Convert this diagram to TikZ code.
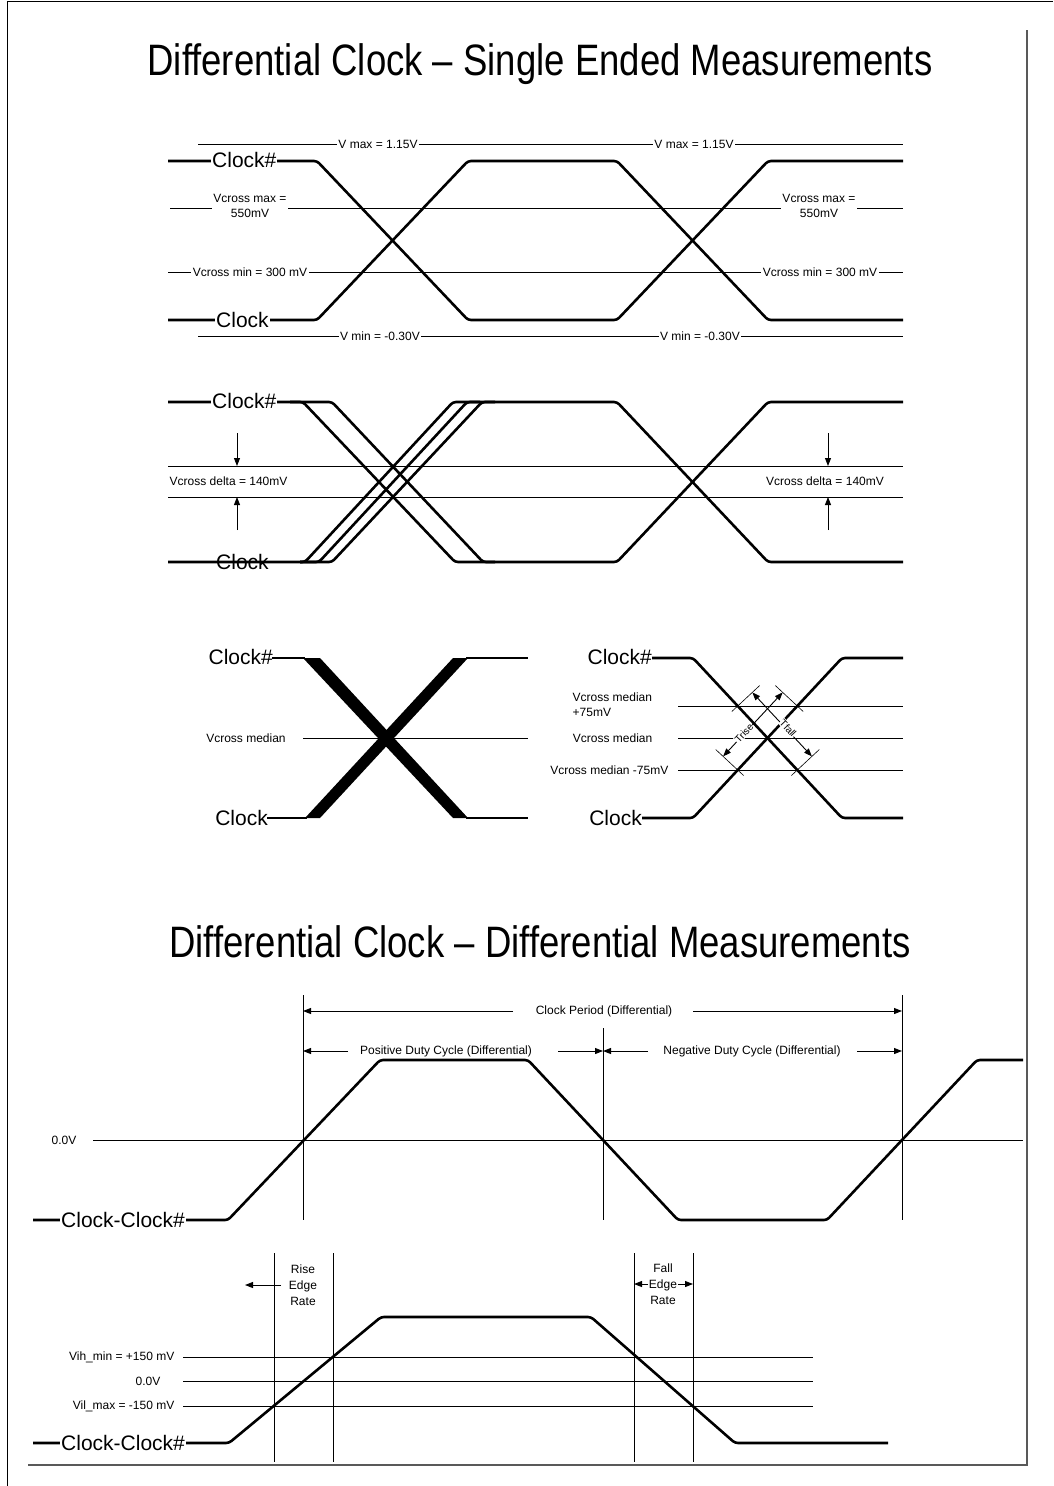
\documentclass[tikz,border=0pt]{standalone}
\usepackage{fontspec}
\setmainfont{Liberation Sans}
\newfontfamily\titlefont[FakeStretch=0.83]{Liberation Sans}
\usetikzlibrary{arrows.meta}
\begin{document}
\begin{tikzpicture}[x=1pt,y=-1pt,
  thinln/.style={line width=0.9pt},
  wave/.style={line width=2.6pt, rounded corners=3pt, line join=round},
  small/.style={font=\fontsize{12}{15}\selectfont, inner sep=1.5pt},
  tiny/.style={font=\fontsize{10}{12}\selectfont, inner sep=0.5pt},
  biglbl/.style={font=\fontsize{21}{24}\selectfont, inner sep=1pt},
  titlestyle/.style={font=\titlefont\fontsize{44}{50}\selectfont},
  dimarrow/.style={line width=0.9pt, -{Triangle[length=8pt,width=6pt]}},
  frameln/.style={line width=2pt, draw=black!65},
]
\fill[white] (0,0) rectangle (1053,1486);
\useasboundingbox (0,0) rectangle (1053,1486);
% page frame
\draw[line width=1pt] (7,1486) -- (7,1) -- (1053,1);
\draw[frameln] (1027,30) -- (1027,1465) -- (28,1465);

% titles
\node[titlestyle] (t1) at (540,64) {Differential Clock \textendash\ Single Ended Measurements};
\node[titlestyle] (t2) at (540,942) {Differential Clock \textendash\ Differential Measurements};

% ===== Section 1 =====
\draw[thinln] (198,144) -- (903,144);
\draw[thinln] (170,208) -- (903,208);
\draw[thinln] (168,272) -- (903,272);
\draw[thinln] (198,336) -- (903,336);
\draw[wave] (168,161) -- (317,161) -- (468,320) -- (617,320) -- (768,161) -- (903,161);
\draw[wave] (168,320) -- (317,320) -- (468,161) -- (617,161) -- (768,320) -- (903,320);
\node[small, fill=white] (vmax1) at (378,144) {V max = 1.15V};
\node[small, fill=white] (vmax2) at (694,144) {V max = 1.15V};
\node[small, fill=white, align=center] (vcmx1) at (250,206) {Vcross max =\\550mV};
\node[small, fill=white, align=center] (vcmx2) at (819,206) {Vcross max =\\550mV};
\node[small, fill=white] (vcmn1) at (250,272) {Vcross min = 300 mV};
\node[small, fill=white] (vcmn2) at (820,272) {Vcross min = 300 mV};
\node[small, fill=white] (vmin1) at (380,336) {V min = -0.30V};
\node[small, fill=white] (vmin2) at (700,336) {V min = -0.30V};
\node[biglbl, fill=white, anchor=west] (c1n) at (211,160) {Clock\#};
\node[biglbl, fill=white, anchor=west] (c1) at (215,320) {Clock};

% ===== Section 2 =====
\draw[thinln] (168,466) -- (903,466);
\draw[thinln] (168,497) -- (903,497);
\draw[wave] (168,402) -- (332,402) -- (483,562) -- (617,562) -- (768,402) -- (903,402);
\draw[wave] (290,402) -- (303,402) -- (455,562) -- (495,562);
\draw[wave] (168,562) -- (305,562) -- (453,402) -- (617,402) -- (768,562) -- (903,562);
\draw[wave] (300,562) -- (319,562) -- (467,402) -- (480,402);
\draw[wave] (300,562) -- (332,562) -- (482,402) -- (495,402);
\node[small, fill=white, anchor=west] (vd1) at (168,481) {Vcross delta = 140mV};
\node[small, fill=white] (vd2) at (825,481) {Vcross delta = 140mV};
\draw[dimarrow] (237,433) -- (237,466);
\draw[dimarrow] (237,530) -- (237,497);
\draw[dimarrow] (828,433) -- (828,466);
\draw[dimarrow] (828,530) -- (828,497);
\node[biglbl, fill=white, anchor=west] (c2n) at (211,401) {Clock\#};
\node[biglbl, anchor=west] (c2) at (215,562) {Clock};

% ===== Section 3 left =====
\draw[thinln] (303,738) -- (528,738);
\fill (303,658) -- (320,658) -- (468,818) -- (453,818) -- cycle;
\fill (305,818) -- (320,818) -- (468,658) -- (453,658) -- cycle;
\draw[wave, rounded corners=0pt] (272,658) -- (305,658);
\draw[wave, rounded corners=0pt] (466,658) -- (528,658);
\draw[wave, rounded corners=0pt] (267,818) -- (307,818);
\draw[wave, rounded corners=0pt] (466,818) -- (528,818);
\node[biglbl, anchor=east] (c3n) at (274,657) {Clock\#};
\node[biglbl, anchor=east] (c3) at (269,818) {Clock};
\node[small] (vm1) at (246,738) {Vcross median};

% ===== Section 3 right =====
\draw[thinln] (678,706) -- (903,706);
\draw[thinln] (678,738) -- (903,738);
\draw[thinln] (678,770) -- (903,770);
\draw[wave] (652,658) -- (693,658) -- (842,818) -- (903,818);
\draw[wave] (642,818) -- (693,818) -- (842,658) -- (903,658);
\node[biglbl, anchor=east] (c4n) at (653,657) {Clock\#};
\node[biglbl, anchor=east] (c4) at (643,818) {Clock};
\node[small, align=left, anchor=west] (vmp) at (571,705) {Vcross median\\+75mV};
\node[small, anchor=east] (vm2) at (654,738) {Vcross median};
\node[small, anchor=east] (vmm) at (670,770) {Vcross median -75mV};
% extension lines
\draw[line width=0.6pt] (743.6,775.5) -- (715.7,749.5);
\draw[line width=0.6pt] (803.2,711.5) -- (775.3,685.5);
\draw[line width=0.6pt] (731.8,711.5) -- (759.7,685.5);
\draw[line width=0.6pt] (791.4,775.5) -- (819.3,749.5);
% dimension lines
\draw[dimarrow, {Triangle[length=8pt,width=6pt]}-{Triangle[length=8pt,width=6pt]}] (723.1,756.4) -- (782.7,692.4);
\draw[dimarrow, {Triangle[length=8pt,width=6pt]}-{Triangle[length=8pt,width=6pt]}] (752.3,692.4) -- (811.9,756.4);
\node[tiny, fill=white, rotate=47] (trise) at (744,733) {Trise};
\node[tiny, fill=white, rotate=-47] (tfall) at (788,728) {Tfall};

% ===== Section 4 =====
\draw[thinln] (303,995) -- (303,1220);
\draw[thinln] (603,1028) -- (603,1220);
\draw[thinln] (902,995) -- (902,1220);
\draw[thinln] (93,1140) -- (1023,1140);
\node[small] (zero1) at (64,1140) {0.0V};
\draw[wave] (33,1220) -- (228,1220) -- (380,1060) -- (528,1060) -- (678,1220) -- (827,1220) -- (977,1060) -- (1023,1060);
\node[biglbl, fill=white, anchor=west] (cc1) at (60,1220) {Clock-Clock\#};
\node[small] (per) at (604,1011) {Clock Period (Differential)};
\draw[dimarrow] (513,1011) -- (303,1011);
\draw[dimarrow] (693,1011) -- (902,1011);
\node[small] (pos) at (446,1051) {Positive Duty Cycle (Differential)};
\draw[dimarrow] (348,1051) -- (303,1051);
\draw[dimarrow] (558,1051) -- (603,1051);
\node[small] (neg) at (752,1051) {Negative Duty Cycle (Differential)};
\draw[dimarrow] (648,1051) -- (603,1051);
\draw[dimarrow] (857,1051) -- (902,1051);

% ===== Section 5 =====
\draw[thinln] (274,1253) -- (274,1462);
\draw[thinln] (333,1253) -- (333,1462);
\draw[thinln] (634,1253) -- (634,1462);
\draw[thinln] (693,1253) -- (693,1462);
\draw[thinln] (183,1357) -- (813,1357);
\draw[thinln] (183,1381) -- (813,1381);
\draw[thinln] (183,1406) -- (813,1406);
\node[small, anchor=east] (vih) at (176,1357) {Vih\_min = +150 mV};
\node[small, anchor=east] (zero2) at (162,1381) {0.0V};
\node[small, anchor=east] (vil) at (176,1406) {Vil\_max = -150 mV};
\draw[wave] (33,1443) -- (229,1443) -- (381,1317) -- (591,1317) -- (735,1443) -- (888,1443);
\node[biglbl, fill=white, anchor=west] (cc2) at (60,1443) {Clock-Clock\#};
\node[small, align=center, font=\fontsize{12}{16}\selectfont] (rise) at (303,1285) {Rise\\Edge\\Rate};
\draw[dimarrow] (281,1285) -- (245,1285);
\node[small, align=center, font=\fontsize{12}{16}\selectfont] (fall) at (663,1284) {Fall\\Edge\\Rate};
\draw[dimarrow] (648,1284) -- (634,1284);
\draw[dimarrow] (678,1284) -- (693,1284);
\end{tikzpicture}
\end{document}
